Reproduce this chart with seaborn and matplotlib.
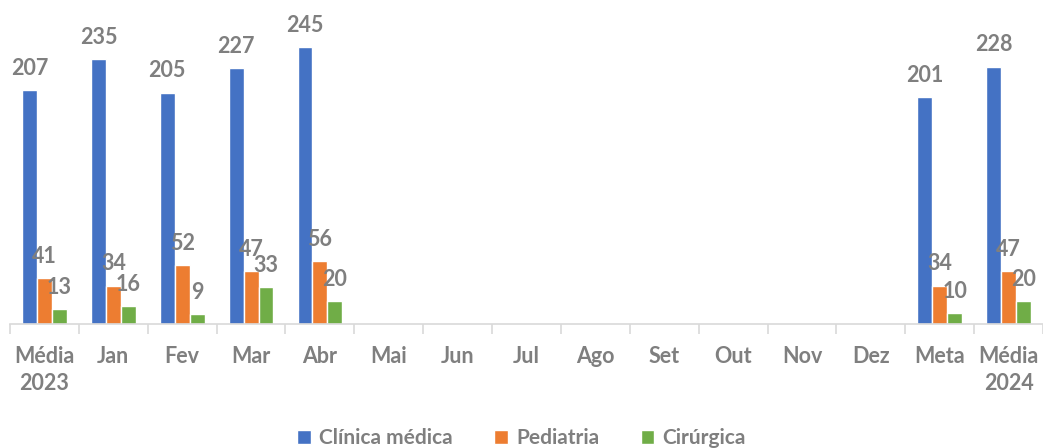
import numpy as np
import pandas as pd
import matplotlib
matplotlib.use('Agg')
import matplotlib.pyplot as plt
import seaborn as sns

# data
categorias = ['Média\n2023', 'Jan', 'Fev', 'Mar', 'Abr', 'Mai', 'Jun', 'Jul',
              'Ago', 'Set', 'Out', 'Nov', 'Dez', 'Meta', 'Média\n2024']
clinica = [207, 235, 205, 227, 245, None, None, None, None, None, None, None, None, 201, 228]
pediatria = [41, 34, 52, 47, 56, None, None, None, None, None, None, None, None, 34, 47]
cirurgica = [13, 16, 9, 33, 20, None, None, None, None, None, None, None, None, 10, 20]
series = ['Clínica médica', 'Pediatria', 'Cirúrgica']
cores = ['#4472C4', '#ED7D31', '#70AD47']

rows = []
for nome, vals in zip(series, [clinica, pediatria, cirurgica]):
    for cat, v in zip(categorias, vals):
        if v is not None:
            rows.append({'cat': cat, 'serie': nome, 'valor': v})
df = pd.DataFrame(rows)

# setup
sns.set_theme(style='white')
plt.rcParams['font.family'] = ['Lato', 'DejaVu Sans']
cinza = '#7F7F7F'

fig = plt.figure(figsize=(10.43, 4.48), dpi=100)
ax = fig.add_axes([0.0096, 0.277, 0.9904, 0.723])

sns.barplot(data=df, x='cat', y='valor', hue='serie', order=categorias,
            hue_order=series, palette=cores, width=0.65, saturation=1,
            errorbar=None, legend=True, ax=ax)

for cont in ax.containers:
    ax.bar_label(cont, fmt='%d', padding=8, color=cinza, fontsize=15.5,
                 fontweight='bold')

ax.set_ylim(0, 287)
ax.set_xlim(-0.5, len(categorias) - 0.5)
ax.set_xlabel('')
ax.set_ylabel('')
ax.set_yticks([])
for s in ['top', 'right', 'left']:
    ax.spines[s].set_visible(False)
ax.spines['bottom'].set_color('#D9D9D9')
ax.spines['bottom'].set_linewidth(1.2)

ax.tick_params(axis='x', which='major', length=0, pad=16, labelsize=15.5,
               labelcolor=cinza)
for t in ax.get_xticklabels():
    t.set_fontweight('bold')
    t.set_linespacing(1.35)
ax.set_xticks(np.arange(-0.5, len(categorias), 1), minor=True)
ax.tick_params(axis='x', which='minor', length=7, color='#D9D9D9', width=1.2,
               bottom=True)

handles, labels = ax.get_legend_handles_labels()
ax.get_legend().remove()
leg = fig.legend(handles, labels, loc='lower center', bbox_to_anchor=(0.5, -0.042),
                 ncol=3, frameon=False, handlelength=0.65, handleheight=0.65,
                 handletextpad=0.4, columnspacing=2.0, fontsize=15)
for t in leg.get_texts():
    t.set_color(cinza)
    t.set_fontweight('bold')

plt.savefig('out.png', dpi=100)
